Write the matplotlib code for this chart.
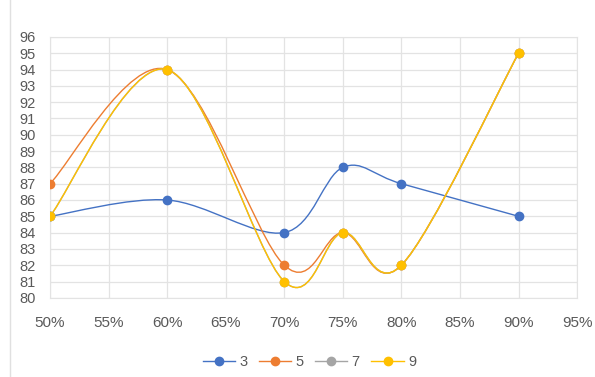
import matplotlib.pyplot as plt
import numpy as np
from matplotlib.path import Path
from matplotlib.patches import PathPatch
from matplotlib.lines import Line2D
from matplotlib.ticker import FuncFormatter

# Data
x_vals = [50, 60, 70, 75, 80, 90]
series_names = ['3', '5', '7', '9']
s3 = [85, 86, 84, 88, 87, 85]
s5 = [87, 94, 82, 84, 82, 95]
s7 = [85, 94, 81, 84, 82, 95]
s9 = [85, 94, 81, 84, 82, 95]
colors = ['#4472C4', '#ED7D31', '#A5A5A5', '#FFC000']

plt.rcParams['font.family'] = ['Liberation Sans', 'DejaVu Sans']


def smooth_path(xs, ys):
    # Catmull-Rom style bezier, like Excel's smoothed lines
    pts = np.column_stack([xs, ys]).astype(float)
    n = len(pts)
    verts = [pts[0]]
    codes = [Path.MOVETO]
    for i in range(n - 1):
        p0 = pts[max(i - 1, 0)]
        p1 = pts[i]
        p2 = pts[i + 1]
        p3 = pts[min(i + 2, n - 1)]
        c1 = p1 + (p2 - p0) / 6.0
        c2 = p2 - (p3 - p1) / 6.0
        verts += [c1, c2, p2]
        codes += [Path.CURVE4] * 3
    return Path(verts, codes)


fig = plt.figure(figsize=(5.95, 3.77), dpi=100)
ax = fig.add_axes([0.084, 0.21, 0.886, 0.692])

for ys, c in zip([s3, s5, s7, s9], colors):
    ax.add_patch(PathPatch(smooth_path(x_vals, ys), facecolor='none',
                           edgecolor=c, lw=1.0, zorder=3))
    ax.plot(x_vals, ys, 'o', color=c, markersize=6, zorder=4)

ax.set_xlim(50, 95)
ax.set_ylim(80, 96)
ax.set_xticks(np.arange(50, 96, 5))
ax.set_yticks(np.arange(80, 97, 1))
ax.xaxis.set_major_formatter(FuncFormatter(lambda v, p: f'{int(v)}%'))
ax.grid(True, color='#E3E3E3', lw=0.9)
ax.set_axisbelow(True)
for sp in ax.spines.values():
    sp.set_color('#E3E3E3')
ax.tick_params(length=0, colors='#595959', labelsize=11)
ax.tick_params(axis='x', pad=13)
ax.tick_params(axis='y', pad=10, labelsize=10.5)

handles = [Line2D([0], [0], color=c, lw=1.0, marker='o', markersize=6)
           for c in colors]
fig.legend(handles, series_names, loc='center', bbox_to_anchor=(0.52, 0.04),
           ncol=4, frameon=False, fontsize=10.5, handlelength=2.2,
           columnspacing=0.8, handletextpad=0.3, labelcolor='#595959')

# faint left border like the screenshot
fig.add_artist(Line2D([0.017, 0.017], [0, 1], color='#E0E0E0', lw=1,
                      transform=fig.transFigure))

plt.savefig('out.png', dpi=100)
